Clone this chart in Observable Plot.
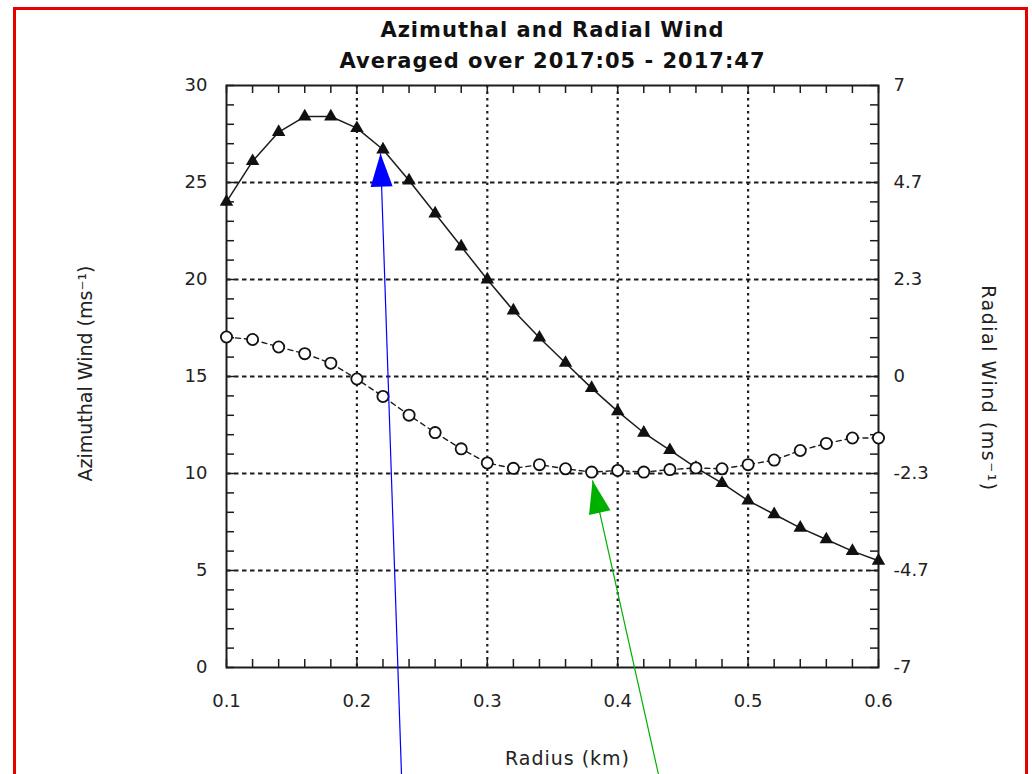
<!DOCTYPE html>
<html>
<head>
<meta charset="utf-8">
<script src="https://cdn.jsdelivr.net/npm/d3@7"></script>
<script src="https://cdn.jsdelivr.net/npm/@observablehq/plot@0.6"></script>
<style>
html, body { margin:0; padding:0; background:#fff; }
body { width:1032px; height:774px; position:relative; overflow:hidden; }
#chart { position:absolute; left:0; top:0; }
#border { position:absolute; left:13px; top:7px; width:1015px; height:820px; border:3px solid #e60000; box-sizing:border-box; pointer-events:none; }
</style>
</head>
<body>
<div id="chart"></div>
<div id="border"></div>
<script>
// ---- data ----
const radius = [0.10,0.12,0.14,0.16,0.18,0.20,0.22,0.24,0.26,0.28,0.30,0.32,0.34,0.36,0.38,0.40,0.42,0.44,0.46,0.48,0.50,0.52,0.54,0.56,0.58,0.60];
const azimuthal = [24.0,26.1,27.6,28.4,28.4,27.8,26.7,25.1,23.4,21.7,20.0,18.4,17.0,15.7,14.4,13.2,12.1,11.2,10.3,9.5,8.6,7.9,7.2,6.6,6.0,5.5];
const radialWind = [0.95,0.89,0.71,0.55,0.32,-0.06,-0.48,-0.93,-1.35,-1.74,-2.08,-2.21,-2.12,-2.22,-2.30,-2.26,-2.30,-2.24,-2.20,-2.22,-2.12,-2.01,-1.78,-1.61,-1.48,-1.48];

const xTicks = [0.1,0.2,0.3,0.4,0.5,0.6];
const xTickLabels = ["0.1","0.2","0.3","0.4","0.5","0.6"];
const yTicks = [0,5,10,15,20,25,30];
const yTickLabels = ["0","5","10","15","20","25","30"];
const radialTickLabels = ["-7","-4.7","-2.3","0","2.3","4.7","7"];
const titleLines = ["Azimuthal and Radial Wind","Averaged over 2017:05 - 2017:47"];
const xLabel = "Radius (km)";
const yLabel = "Azimuthal Wind (ms\u207B\u00B9)";
const y2Label = "Radial Wind (ms\u207B\u00B9)";

// annotation arrows (data coordinates: tail -> tip)
const arrowTail = [[0.2342,-5.52],[0.4313,-5.52]];
const arrowTip = [[0.2181,26.49],[0.3807,9.64]];
const arrowColors = ["#0000ff","#00b000"];

// ---- layout ----
const W = 1032, H = 774, mL = 226, mR = 154, mT = 85, mB = 107;
const xDomain = [0.1, 0.6], yDomain = [0, 30];
const frameW = W - mL - mR, frameH = H - mT - mB;
const kx = frameW / (xDomain[1] - xDomain[0]);
const ky = frameH / (yDomain[1] - yDomain[0]);

// radial axis maps -7..7 onto 0..30 of the azimuthal axis
const radialToAz = r => 15 + r * 15 / 7;

const azData = radius.map((x, i) => ({x, y: azimuthal[i]}));
const radData = radius.map((x, i) => ({x, y: radialToAz(radialWind[i])}));
const xMinor = d3.range(26).map(i => 0.1 + i * 0.02);
const yMinor = d3.range(31);

const arrows = arrowTail.map((t, i) => ({x1: t[0], y1: t[1], x2: arrowTip[i][0], y2: arrowTip[i][1], color: arrowColors[i]}));

function headSymbol(a) {
  const dxp = (a.x2 - a.x1) * kx, dyp = -(a.y2 - a.y1) * ky;
  const len = Math.hypot(dxp, dyp), ux = dxp / len, uy = dyp / len;
  const L = 33, Wd = 22;
  return {
    draw(ctx) {
      const bx = -ux * L, by = -uy * L;
      ctx.moveTo(0, 0);
      ctx.lineTo(bx - uy * Wd / 2, by + ux * Wd / 2);
      ctx.lineTo(bx + uy * Wd / 2, by - ux * Wd / 2);
      ctx.closePath();
    }
  };
}

const ink = "#1c1c1c";

const marks = [
  Plot.ruleY(yTicks.filter(d => d > 0 && d < 30), {stroke: ink, strokeWidth: 1.8, strokeDasharray: "4.5,3.5"}),
  Plot.ruleX(xTicks.filter(d => d > 0.15 && d < 0.55), {stroke: ink, strokeWidth: 2.2, strokeDasharray: "2.5,4"}),
  Plot.tickY(yMinor, {y: d => d, insetRight: frameW - 8, stroke: ink, strokeWidth: 1.5}),
  Plot.tickY(yMinor, {y: d => d, insetLeft: frameW - 8, stroke: ink, strokeWidth: 1.5}),
  Plot.tickX(xMinor, {x: d => d, insetTop: frameH - 8, stroke: ink, strokeWidth: 1.5}),
  Plot.tickX(xMinor, {x: d => d, insetBottom: frameH - 8, stroke: ink, strokeWidth: 1.5}),
  Plot.frame({stroke: ink, strokeWidth: 2}),
  Plot.line(azData, {x: "x", y: "y", stroke: ink, strokeWidth: 1.5}),
  Plot.dot(azData, {x: "x", y: "y", symbol: "triangle", r: 5, fill: "#111", stroke: "none"}),
  Plot.line(radData, {x: "x", y: "y", stroke: ink, strokeWidth: 1.4, strokeDasharray: "5,4"}),
  Plot.dot(radData, {x: "x", y: "y", r: 5.6, fill: "white", stroke: "#111", strokeWidth: 1.8}),
  Plot.axisX(xTicks, {anchor: "bottom", tickSize: 0, tickPadding: 27, fontSize: 18, fill: "#222", label: null,
    tickFormat: d => xTickLabels[xTicks.indexOf(d)]}),
  Plot.axisY(yTicks, {anchor: "left", tickSize: 0, tickPadding: 19, fontSize: 18, fill: "#222", label: null,
    tickFormat: d => yTickLabels[yTicks.indexOf(d)]}),
  Plot.axisY(yTicks, {anchor: "right", tickSize: 0, tickPadding: 15, fontSize: 18, fill: "#222", label: null,
    tickFormat: d => radialTickLabels[yTicks.indexOf(d)]}),
  Plot.text([titleLines[0]], {frameAnchor: "top", textAnchor: "middle", lineAnchor: "middle", dy: -55, fontSize: 21, fontWeight: "bold", fill: "#111"}),
  Plot.text([titleLines[1]], {frameAnchor: "top", textAnchor: "middle", lineAnchor: "middle", dy: -24, fontSize: 21, fontWeight: "bold", fill: "#111"}),
  Plot.text([xLabel], {frameAnchor: "bottom", textAnchor: "middle", lineAnchor: "middle", dy: 91, dx: 15, fontSize: 19, fill: "#222"}),
  Plot.text([yLabel], {frameAnchor: "left", textAnchor: "middle", lineAnchor: "middle", rotate: -90, dx: -141, dy: -3, fontSize: 19, fill: "#222"}),
  Plot.text([y2Label], {frameAnchor: "right", textAnchor: "middle", lineAnchor: "middle", rotate: 90, dx: 110, dy: 12, fontSize: 19, fill: "#222"})
];

arrows.forEach(a => {
  marks.push(Plot.link([a], {x1: "x1", y1: "y1", x2: "x2", y2: "y2", stroke: a.color, strokeWidth: 1.2}));
  marks.push(Plot.dot([a], {x: "x2", y: "y2", symbol: headSymbol(a), r: 5, fill: a.color, stroke: "none"}));
});

const chart = Plot.plot({
  width: W, height: H,
  marginLeft: mL, marginRight: mR, marginTop: mT, marginBottom: mB,
  style: {fontFamily: "'DejaVu Sans', sans-serif", fontSize: "18px", background: "white", color: "#222", overflow: "visible"},
  x: {domain: xDomain, axis: null},
  y: {domain: yDomain, axis: null},
  marks
});

d3.select(chart).selectAll("text").each(function() {
  const t = this.textContent;
  if (titleLines.includes(t)) this.setAttribute("letter-spacing", "1");
  else if (t === xLabel) this.setAttribute("letter-spacing", "1");
  else if (t === y2Label) this.setAttribute("letter-spacing", "1.5");
});

document.getElementById("chart").appendChild(chart);
</script>
</body>
</html>
